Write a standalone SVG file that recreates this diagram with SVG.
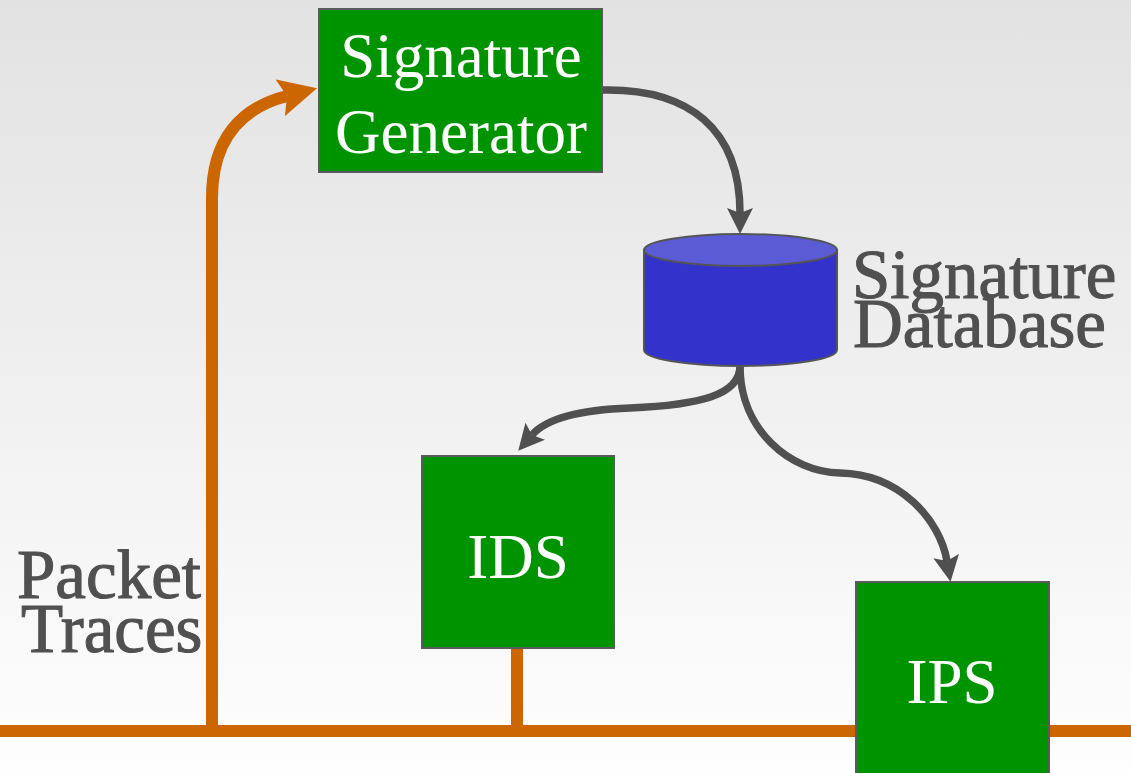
<svg xmlns="http://www.w3.org/2000/svg" width="1131" height="773" viewBox="0 0 1131 773">
  <defs>
    <linearGradient id="bg" x1="0" y1="0" x2="0" y2="1">
      <stop offset="0" stop-color="#e2e2e2"/>
      <stop offset="1" stop-color="#fefefe"/>
    </linearGradient>
    <marker id="headGray" viewBox="0 0 26 26" markerUnits="userSpaceOnUse" markerWidth="26" markerHeight="26" refX="5" refY="13" orient="auto">
      <path d="M0,0 L26,13 L0,26 L5,13 z" fill="#505050"/>
    </marker>
    <marker id="headOrange" viewBox="0 0 38 38" markerUnits="userSpaceOnUse" markerWidth="38" markerHeight="38" refX="7" refY="19" orient="auto">
      <path d="M0,0 L38,19 L0,38 L7,19 z" fill="#cc6600"/>
    </marker>
    <style>
      .box { fill: #009300; stroke: #5a5a5a; stroke-width: 2; }
      .white { font-size: 63px; fill: #ffffff; text-anchor: middle; }
      .gray { font-size: 69px; fill: #505050; stroke: #505050; stroke-width: 1.1; }
      .wire { fill: none; stroke: #cc6600; stroke-width: 12; }
      .flow { fill: none; stroke: #505050; stroke-width: 7.5; }
    </style>
  </defs>

  <rect width="1131" height="773" fill="url(#bg)"/>

  <g id="connectors">
    <!-- network bus and taps -->
    <path class="wire" d="M0,731 H1131"/>
    <path class="wire" d="M517,648 V731"/>
    <path class="wire" d="M212,731 V198 C212,140 240,108 287,96" marker-end="url(#headOrange)"/>
    <!-- signature flow -->
    <path class="flow" d="M602,90 C690,88 740,130 740,213" marker-end="url(#headGray)"/>
    <path class="flow" d="M740,366 C740,395 700,405 630,408 C575,410 545,420 532,435" marker-end="url(#headGray)"/>
    <path class="flow" d="M740,366 C740,430 790,472 840,473 C900,474 940,520 947,561" marker-end="url(#headGray)"/>
  </g>

  <g font-family="'Liberation Serif', 'Times New Roman', 'DejaVu Serif', serif">
    <g id="signature-generator">
      <rect class="box" x="319" y="9" width="283" height="163"/>
      <text class="white" x="461" y="77">Signature</text>
      <text class="white" x="461" y="153">Generator</text>
    </g>

    <g id="signature-database">
      <path d="M644,250 V350 A96.5,16 0 0 0 837,350 V250 z" fill="#3333cc" stroke="#555555" stroke-width="2"/>
      <ellipse cx="740.5" cy="250" rx="96.5" ry="16" fill="#5b5bd6" stroke="#555555" stroke-width="2"/>
      <text class="gray" x="852" y="298">Signature</text>
      <text class="gray" x="853" y="347">Database</text>
    </g>

    <g id="ids">
      <rect class="box" x="422" y="456" width="192" height="192"/>
      <text class="white" x="518" y="578">IDS</text>
    </g>

    <g id="ips">
      <rect class="box" x="856" y="582" width="193" height="200"/>
      <text class="white" x="952" y="703">IPS</text>
    </g>

    <g id="packet-traces">
      <text class="gray" x="17" y="598">Packet</text>
      <text class="gray" x="21" y="652">Traces</text>
    </g>
  </g>
</svg>
